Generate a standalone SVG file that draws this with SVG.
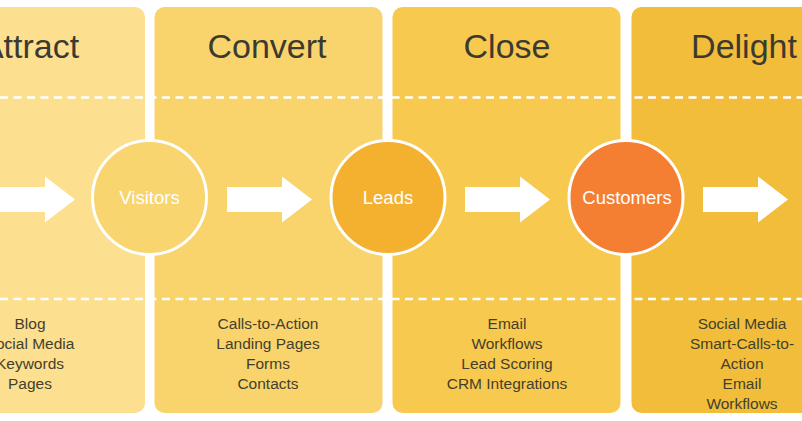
<svg xmlns="http://www.w3.org/2000/svg" width="802" height="421" viewBox="0 0 802 421">
<style>
.title{font-family:"Liberation Sans",Arial,sans-serif;font-size:34px;fill:#3c3a30;text-anchor:middle}
.item{font-family:"Liberation Sans",Arial,sans-serif;font-size:15.5px;fill:#443f2c;text-anchor:middle}
.clabel{font-family:"Liberation Sans",Arial,sans-serif;font-size:18.5px;fill:#ffffff;text-anchor:middle}
.dash{stroke:#ffffff;stroke-width:2.5;stroke-dasharray:8 5.5;fill:none}
.circ{stroke:#ffffff;stroke-width:3}
.arrow{fill:#ffffff}
</style>
<defs>
<path id="arr" d="M0,-12.5 H55 V-23 L85,0 L55,23 V12.5 H0 Z"/>
</defs>
<rect width="802" height="421" fill="#ffffff"/>
<g id="attract">
<rect x="-84" y="7" width="229" height="406" rx="10" fill="#fce08f"/>
<text class="title" x="30" y="58">Attract</text>
<text class="item" x="30" y="329">Blog</text>
<text class="item" x="30" y="349">Social Media</text>
<text class="item" x="30" y="369">Keywords</text>
<text class="item" x="30" y="389">Pages</text>
</g>
<g id="convert">
<rect x="154.5" y="7" width="228" height="406" rx="10" fill="#f9d46c"/>
<text class="title" x="267" y="58">Convert</text>
<text class="item" x="268" y="329">Calls-to-Action</text>
<text class="item" x="268" y="349">Landing Pages</text>
<text class="item" x="268" y="369">Forms</text>
<text class="item" x="268" y="389">Contacts</text>
</g>
<g id="close">
<rect x="392.5" y="7" width="228" height="406" rx="10" fill="#f7c94f"/>
<text class="title" x="507" y="58">Close</text>
<text class="item" x="507" y="329">Email</text>
<text class="item" x="507" y="349">Workflows</text>
<text class="item" x="507" y="369">Lead Scoring</text>
<text class="item" x="507" y="389">CRM Integrations</text>
</g>
<g id="delight">
<rect x="631.5" y="7" width="228" height="406" rx="10" fill="#f2bd3a"/>
<text class="title" x="744" y="58">Delight</text>
<text class="item" x="742" y="329">Social Media</text>
<text class="item" x="742" y="349">Smart-Calls-to-</text>
<text class="item" x="742" y="369">Action</text>
<text class="item" x="742" y="389">Email</text>
<text class="item" x="742" y="409">Workflows</text>
</g>
<g id="dividers">
<line class="dash" x1="0" y1="97.5" x2="802" y2="97.5"/>
<line class="dash" x1="0" y1="299" x2="802" y2="299"/>
</g>
<g id="connectors">
<use href="#arr" class="arrow" x="-10" y="199.5"/>
<use href="#arr" class="arrow" x="227" y="199.5"/>
<use href="#arr" class="arrow" x="465" y="199.5"/>
<use href="#arr" class="arrow" x="703" y="199.5"/>
</g>
<g id="visitors">
<circle class="circ" cx="149.5" cy="197.5" r="57" fill="#f9d56f"/>
<text class="clabel" x="149.5" y="204">Visitors</text>
</g>
<g id="leads">
<circle class="circ" cx="388" cy="197.5" r="57" fill="#f3b12f"/>
<text class="clabel" x="388" y="204">Leads</text>
</g>
<g id="customers">
<circle class="circ" cx="626" cy="197.5" r="57" fill="#f47e32"/>
<text class="clabel" x="627" y="204">Customers</text>
</g>
</svg>
